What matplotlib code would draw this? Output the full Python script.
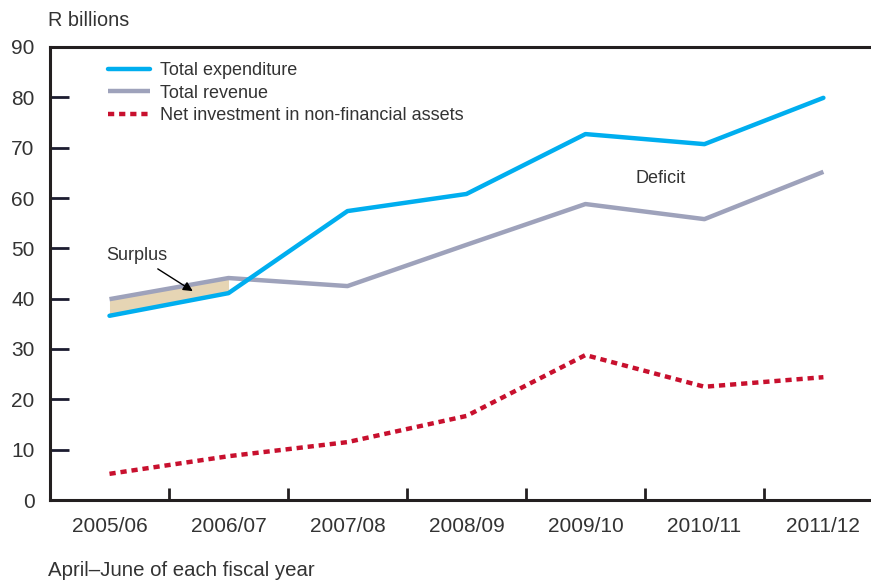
import numpy as np
import matplotlib
matplotlib.use('Agg')
import matplotlib.pyplot as plt

plt.rcParams['font.family'] = ['Liberation Sans', 'DejaVu Sans']

years = ['2005/06', '2006/07', '2007/08', '2008/09', '2009/10', '2010/11', '2011/12']
expenditure = [36.6, 41.1, 57.4, 60.8, 72.7, 70.7, 79.9]
revenue = [39.9, 44.1, 42.5, 50.7, 58.8, 55.8, 65.2]
net_investment = [5.2, 8.7, 11.5, 16.7, 28.8, 22.5, 24.4]

text_color = '#333333'
x = np.arange(len(years))

fig = plt.figure(figsize=(8.71, 5.81), dpi=100)
ax = fig.add_axes([50 / 871, 81 / 581, 821 / 871, 453 / 581])

# surplus area (revenue above expenditure)
ax.fill_between(x[:2], expenditure[:2], revenue[:2], color='#e6d5b4', lw=0, zorder=1)

ax.plot(x, expenditure, color='#00aeef', lw=3.2, label='Total expenditure',
        solid_capstyle='round', solid_joinstyle='round', zorder=3)
ax.plot(x, revenue, color='#9ea2bb', lw=3.2, label='Total revenue',
        solid_capstyle='butt', solid_joinstyle='round', zorder=2)
ax.plot(x, net_investment, color='#c8102e', lw=3.2, dashes=(1.4, 1.1),
        dash_capstyle='butt', label='Net investment in non-financial assets', zorder=3)

ax.set_xlim(-0.5, 6.4)
ax.set_ylim(0, 90)
ax.set_yticks(np.arange(0, 91, 10))

# ticks between categories, labels at centres
ax.set_xticks(x[:-1] + 0.5)
ax.set_xticklabels([])
ax.set_xticks(x, minor=True)
ax.set_xticklabels(years, minor=True)
ax.tick_params(axis='x', which='major', direction='in', length=9, width=2, color='#231f20')
ax.tick_params(axis='x', which='minor', length=0, pad=12, labelsize=15, labelcolor=text_color)
ax.tick_params(axis='y', direction='in', length=14, width=2, color='#1c1c30',
               pad=11, labelsize=15, labelcolor=text_color)

for s in ['left', 'bottom', 'top']:
    ax.spines[s].set_linewidth(2.2)
    ax.spines[s].set_color('#231f20')
ax.spines['right'].set_visible(False)

leg = ax.legend(loc='upper left', bbox_to_anchor=(0.062, 0.982), frameon=False,
                fontsize=13, handlelength=2.3, handletextpad=0.55, labelspacing=0.3,
                borderaxespad=0)
for t in leg.get_texts():
    t.set_color(text_color)

ax.annotate('Surplus', xy=(0.7, 41.5), xytext=(-0.03, 48.6), fontsize=13,
            color=text_color, ha='left', va='center',
            arrowprops=dict(arrowstyle='-|>', color='black', lw=1, mutation_scale=14,
                            shrinkA=3, shrinkB=0))
ax.text(4.63, 63.8, 'Deficit', fontsize=13, color=text_color, ha='center', va='center')

fig.text(48 / 871, 1 - 20 / 581, 'R billions', fontsize=14.3, color=text_color,
         ha='left', va='center')
fig.text(48 / 871, 1 - 571 / 581, 'April–June of each fiscal year', fontsize=14.7,
         color=text_color, ha='left', va='center')

fig.savefig('out.png', dpi=100)
